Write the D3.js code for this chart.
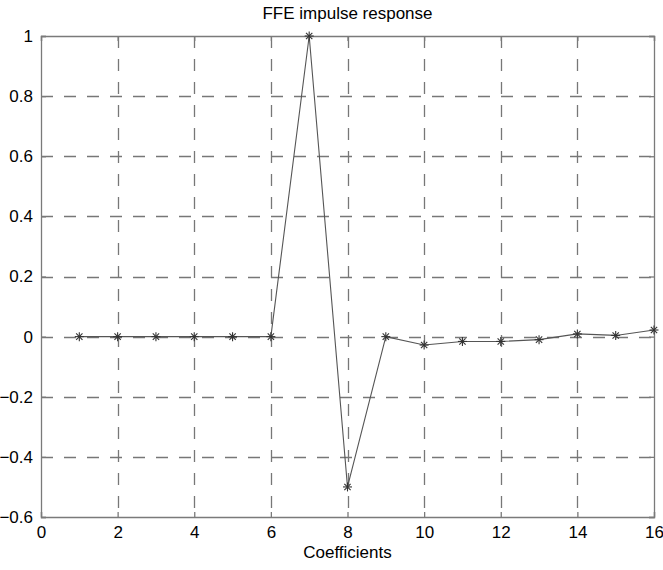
<!DOCTYPE html>
<html><head><meta charset="utf-8">
<script src="https://cdn.jsdelivr.net/npm/d3@7"></script>
<style>body{margin:0;background:#fff}svg{display:block}text{font-family:Arial,"Liberation Sans",sans-serif}</style>
</head><body>
<script>
const coefIndex = [1,2,3,4,5,6,7,8,9,10,11,12,13,14,15,16];
const coefValues = [0,0,0,0,0,0,1,-0.5,0,-0.028,-0.016,-0.016,-0.01,0.009,0.004,0.022];
const xTicks = [0,2,4,6,8,10,12,14,16];
const yTicks = [-0.6,-0.4,-0.2,0,0.2,0.4,0.6,0.8,1];
const titleText = "FFE impulse response";
const xLabelText = "Coefficients";

const W=663,H=570, m={l:41,r:9,t:36,b:53};
const FS="17px";
const svg=d3.select("body").append("svg").attr("width",W).attr("height",H);
const x=d3.scaleLinear().domain([0,16]).range([m.l,W-m.r]);
const y=d3.scaleLinear().domain([-0.6,1]).range([H-m.b,m.t]);
const gridCol="#777", boxCol="#7a7a7a";

// grid
svg.append("g").selectAll("line").data(xTicks.slice(1,-1)).join("line")
 .attr("x1",d=>Math.round(x(d))+0.5).attr("x2",d=>Math.round(x(d))+0.5)
 .attr("y1",y(1)).attr("y2",y(-0.6)).attr("stroke",gridCol).attr("stroke-width",1.3).attr("stroke-dasharray","12,11");
svg.append("g").selectAll("line").data(yTicks.slice(1,-1)).join("line")
 .attr("y1",d=>Math.round(y(d))+0.5).attr("y2",d=>Math.round(y(d))+0.5)
 .attr("x1",x(0)).attr("x2",x(16)).attr("stroke",gridCol).attr("stroke-width",1.3).attr("stroke-dasharray","12,11");

// axes
const gx=svg.append("g").attr("transform",`translate(0,${y(-0.6)})`)
 .call(d3.axisBottom(x).tickValues(xTicks).tickSize(-5).tickPadding(9).tickFormat(d3.format("d")));
const gxt=svg.append("g").attr("transform",`translate(0,${y(1)})`)
 .call(d3.axisTop(x).tickValues(xTicks).tickSize(-5).tickFormat(""));
const gy=svg.append("g").attr("transform",`translate(${x(0)},0)`)
 .call(d3.axisLeft(y).tickValues(yTicks).tickSize(-5).tickPadding(8).tickFormat(d=>d3.format("")(+d.toFixed(1))));
const gyr=svg.append("g").attr("transform",`translate(${x(16)},0)`)
 .call(d3.axisRight(y).tickValues(yTicks).tickSize(-5).tickFormat(""));
[gx,gxt,gy,gyr].forEach(g=>{
  g.selectAll("path").attr("stroke",boxCol).attr("stroke-width",1.3);
  g.selectAll("line").attr("stroke",boxCol).attr("stroke-width",1.3);
  g.selectAll("text").attr("fill","#000").style("font-size",FS).style("font-family","Arial, 'Liberation Sans', sans-serif");
});

// data line
svg.append("path").datum(coefIndex.map((c,i)=>[c,coefValues[i]]))
 .attr("fill","none").attr("stroke","#555").attr("stroke-width",1.1)
 .attr("d",d3.line().x(d=>x(d[0])).y(d=>y(d[1])));
// asterisk markers
const mk=svg.append("g");
coefIndex.forEach((c,i)=>{
  const cx=x(c), cy=y(coefValues[i]), r=4.5;
  const g=mk.append("g").attr("transform",`translate(${cx},${cy})`).attr("stroke","#333").attr("stroke-width",1.1);
  g.append("line").attr("x1",0).attr("x2",0).attr("y1",-r).attr("y2",r);
  g.append("line").attr("x1",-r).attr("x2",r).attr("y1",0).attr("y2",0);
  g.append("line").attr("x1",-r*0.7).attr("x2",r*0.7).attr("y1",-r*0.7).attr("y2",r*0.7);
  g.append("line").attr("x1",-r*0.7).attr("x2",r*0.7).attr("y1",r*0.7).attr("y2",-r*0.7);
});

svg.append("text").attr("x",(x(0)+x(16))/2).attr("y",19).attr("text-anchor","middle").style("font-size",FS).text(titleText);
svg.append("text").attr("x",(x(0)+x(16))/2).attr("y",558).attr("text-anchor","middle").style("font-size",FS).text(xLabelText);
</script>
</body></html>
